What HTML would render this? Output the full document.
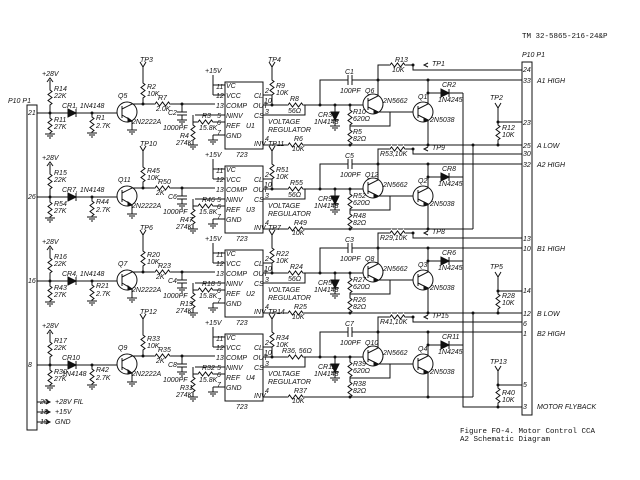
<!DOCTYPE html>
<html><head><meta charset="utf-8"><style>
html,body{margin:0;padding:0;background:#fff;width:640px;height:480px;overflow:hidden}
svg{display:block}
text{font-family:"Liberation Sans",sans-serif;font-style:italic;font-size:7px;fill:#111}
.m{font-family:"Liberation Mono",monospace;font-style:normal;font-size:7.5px}
</style></head><body>
<svg width="640" height="480" viewBox="0 0 640 480" xmlns="http://www.w3.org/2000/svg">
<defs>
<g id="ch" fill="none" stroke="#111" stroke-width="1">
<path d="M37,113 H117"/>
<path d="M50,80 V90 l2,1.5 -4,3 4,3 -4,3 4,3 -2,1.5 V118 l2,1.5 -4,3 4,3 -4,3 4,3 -2,1.5 V134"/>
<path d="M47,82 l3,-4 3,4"/>
<path d="M45,134 h10 M47,136 h6 M49,138 h2"/>
<path d="M68,109 V117 L76,113 Z" fill="#111"/><path d="M76,109 V117"/>
<path d="M92,113 V117 l2,1.5 -4,3 4,3 -4,3 4,3 -2,1.5 V133 M87,133 h10 M89,135 h6 M91,137 h2"/>
<circle cx="127" cy="112" r="10"/>
<path d="M122,106 V118 M122,109 L132,104 H215 M122,115 L132,121 V130 M127,130 h10 M129,132 h6 M131,134 h2"/>
<path d="M128,118 l4,3 -4,1 z" fill="#111"/>
<path d="M140,62 l3,5 3,-5 M143,67 V83 l2,1.5 -4,3 4,3 -4,3 4,3 -2,1.5 V104"/>
<path d="M155,104 l1.5,-2 3,4 3,-4 3,4 3,-4 1.5,2" stroke="#fff" stroke-width="3"/>
<path d="M155,104 l1.5,-2 3,4 3,-4 3,4 3,-4 1.5,2"/>
<path d="M182,104 V112 M177,112 h10 M177,115 h10 M182,115 V120 M177,120 h10 M179,122 h6 M181,124 h2"/>
<rect x="225" y="82" width="38" height="67"/>
<path d="M213,75 V95 M213,85 H225 M213,95 H225 M195,115 H225 M193,122 H225 M213,135 H225 M213,135 V140 M208,140 h10 M210,142 h6 M212,144 h2"/>
<path d="M198,122 l1.5,-2 3,4 3,-4 3,4 3,-4 1.5,2" stroke="#fff" stroke-width="3"/>
<path d="M198,122 l1.5,-2 3,4 3,-4 3,4 3,-4 1.5,2"/>
<path d="M193,115 V125 l2,1.5 -4,3 4,3 -4,3 4,3 -2,1.5 V145 M188,145 h10 M190,147 h6 M192,149 h2"/>
<path d="M263,95 H272 V105 M263,105 H363 M263,115 H305 V105"/>
<path d="M269,62 l3,5 3,-5 M272,67 V80 l2,1.5 -4,3 4,3 -4,3 4,3 -2,1.5 V105"/>
<path d="M288,105 l1.5,-2 3,4 3,-4 3,4 3,-4 1.5,2" stroke="#fff" stroke-width="3"/>
<path d="M288,105 l1.5,-2 3,4 3,-4 3,4 3,-4 1.5,2"/>
<path d="M263,145 H473"/>
<path d="M288,145 l1.5,-2 3,4 3,-4 3,4 3,-4 1.5,2" stroke="#fff" stroke-width="3"/>
<path d="M288,145 l1.5,-2 3,4 3,-4 3,4 3,-4 1.5,2"/>
<path d="M320,105 V80 H348 M352,80 H522 M348,75 V85 M352,75 V85"/>
<path d="M335,105 V112 M331,120 H339 M335,120 V126 M330,126 h10 M332,128 h6 M334,130 h2"/>
<path d="M331,112 H339 L335,120 Z" fill="#111"/>
<path d="M350,105 V110 l2,1.5 -4,3 4,3 -4,3 4,3 -2,1.5 V130 l2,1.5 -4,3 4,3 -4,3 4,3 -2,1.5 V145"/>
<circle cx="373" cy="104" r="10"/>
<path d="M368,98 V110 M368,101 L378,96 V65 H413 M368,107 L378,112 H413 M390,112 V126 H350"/>
<path d="M374,110 l4,2 -4,1.5z" fill="#111"/>
<path d="M390,65 l1.5,-2 3,4 3,-4 3,4 3,-4 1.5,2" stroke="#fff" stroke-width="3"/>
<path d="M390,65 l1.5,-2 3,4 3,-4 3,4 3,-4 1.5,2"/>
<path d="M413,65 V70 H522 M428,63 l-4,2 4,2"/>
<circle cx="423" cy="112" r="10"/>
<path d="M418,106 V118 M418,109 L428,104 V80 M418,115 L428,120 V145 M428,93 H463"/>
<path d="M424,118 l4,2 -4,1.5z" fill="#111"/>
<path d="M441,89 V97 L449,93 Z" fill="#111"/><path d="M449,89 V97"/>
<g fill="#111" stroke="none"><circle cx="50" cy="113" r="1.5"/><circle cx="92" cy="113" r="1.5"/><circle cx="143" cy="104" r="1.5"/><circle cx="182" cy="104" r="1.5"/><circle cx="272" cy="105" r="1.5"/><circle cx="320" cy="105" r="1.5"/><circle cx="335" cy="105" r="1.5"/><circle cx="350" cy="105" r="1.5"/><circle cx="378" cy="80" r="1.5"/><circle cx="428" cy="80" r="1.5"/><circle cx="428" cy="93" r="1.5"/><circle cx="413" cy="65" r="1.5"/><circle cx="428" cy="145" r="1.5"/><circle cx="350" cy="145" r="1.5"/></g>
</g>
</defs>
<use href="#ch"/>
<use href="#ch" y="84"/>
<use href="#ch" y="168"/>
<use href="#ch" y="252"/>
<g fill="none" stroke="#111">
<rect x="27" y="105" width="10" height="325"/>
<rect x="522" y="62" width="10" height="353"/>
<path d="M463,93 V407 H522 M473,145 V229 M473,313 V397 M473,145 H522 M473,313 H522"/>
<path d="M495,103 l3,5 3,-5 M498,108 V125 l2,1.5 -4,3 4,3 -4,3 4,3 -2,1.5 V145 M498,122 H522"/>
<path d="M495,272 l3,5 3,-5 M498,277 V294 l2,1.5 -4,3 4,3 -4,3 4,3 -2,1.5 V313 M498,291 H522"/>
<path d="M495,366 l3,5 3,-5 M498,371 V388 l2,1.5 -4,3 4,3 -4,3 4,3 -2,1.5 V407 M498,385 H522"/>
<path d="M37,402 H50 M37,412 H50 M37,422 H50 M46,400 l4,2 -4,2 M46,410 l4,2 -4,2 M46,420 l4,2 -4,2"/>
</g>
<g fill="#111"><circle cx="498" cy="122" r="1.5"/><circle cx="498" cy="145" r="1.5"/><circle cx="498" cy="291" r="1.5"/><circle cx="498" cy="313" r="1.5"/><circle cx="498" cy="385" r="1.5"/><circle cx="498" cy="407" r="1.5"/><circle cx="473" cy="145" r="1.5"/><circle cx="473" cy="313" r="1.5"/></g>
<text class="m" x="522" y="38">TM 32-5865-216-24&amp;P</text>
<text x="8" y="103">P10 P1</text>
<text x="522" y="57">P10 P1</text>
<text x="40" y="404">20</text><text x="55" y="404">+28V FIL</text>
<text x="40" y="414">18</text><text x="55" y="414">+15V</text>
<text x="40" y="424">19</text><text x="55" y="424">GND</text>
<text x="523" y="72">24</text><text x="523" y="83">33</text><text x="537" y="83">A1 HIGH</text>
<text x="523" y="125">23</text><text x="523" y="148">25</text><text x="537" y="148">A LOW</text>
<text x="523" y="156">30</text><text x="523" y="167">32</text><text x="537" y="167">A2 HIGH</text>
<text x="523" y="241">13</text><text x="523" y="251">10</text><text x="537" y="251">B1 HIGH</text>
<text x="523" y="293">14</text><text x="523" y="316">12</text><text x="537" y="316">B LOW</text>
<text x="523" y="326">6</text><text x="523" y="336">1</text><text x="537" y="336">B2 HIGH</text>
<text x="523" y="387">5</text><text x="523" y="409">3</text><text x="537" y="409">MOTOR FLYBACK</text>
<text x="490" y="100">TP2</text><text x="502" y="130">R12</text><text x="502" y="137">10K</text>
<text x="490" y="269">TP5</text><text x="502" y="298">R28</text><text x="502" y="305">10K</text>
<text x="490" y="364">TP13</text><text x="502" y="395">R40</text><text x="502" y="402">10K</text>
<text class="m" x="460" y="433">Figure FO-4.  Motor Control CCA</text>
<text class="m" x="460" y="441">A2 Schematic Diagram</text>
<g>
<text x="28" y="115">21</text><text x="42" y="76">+28V</text><text x="54" y="91">R14</text><text x="54" y="98">22K</text><text x="54" y="122">R11</text><text x="54" y="129">27K</text>
<text x="62" y="108">CR1, 1N4148</text><text x="96" y="120">R1</text><text x="96" y="128">2.7K</text><text x="118" y="98">Q5</text><text x="132" y="124">2N2222A</text>
<text x="140" y="62">TP3</text><text x="147" y="89">R2</text><text x="147" y="96">10K</text><text x="158" y="100">R7</text><text x="156" y="111">2.0K</text><text x="168" y="115">C2</text><text x="163" y="130">1000PF</text>
<text x="202" y="118">R3</text><text x="199" y="130">15.8K</text><text x="180" y="138">R4</text><text x="176" y="145">274K</text><text x="205" y="73">+15V</text>
<text x="216" y="89">11</text><text x="216" y="98">12</text><text x="216" y="108">13</text><text x="217" y="118">5</text><text x="217" y="125">6</text><text x="217" y="135">7</text>
<text x="226" y="88">VC</text><text x="226" y="98">VCC</text><text x="226" y="108">COMP</text><text x="226" y="118">NINV</text><text x="226" y="128">REF</text><text x="226" y="138">GND</text>
<text x="254" y="98">CL</text><text x="253" y="108">OUT</text><text x="254" y="118">CS</text><text x="254" y="146">INV</text><text x="246" y="128">U1</text>
<text x="265" y="93">2</text><text x="264" y="103">10</text><text x="265" y="114">3</text><text x="265" y="141">4</text><text x="236" y="157">723</text>
<text x="268" y="62">TP4</text><text x="276" y="88">R9</text><text x="276" y="95">10K</text><text x="290" y="101">R8</text><text x="288" y="113">56Ω</text>
<text x="268" y="124">VOLTAGE</text><text x="268" y="132">REGULATOR</text><text x="294" y="141">R6</text><text x="292" y="151">10K</text>
<text x="345" y="74">C1</text><text x="340" y="93">100PF</text><text x="318" y="117">CR3</text><text x="314" y="124">1N4148</text><text x="353" y="114">R10</text><text x="353" y="121">620Ω</text><text x="353" y="134">R5</text><text x="353" y="141">82Ω</text>
<text x="365" y="93">Q6</text><text x="383" y="103">2N5662</text><text x="418" y="99">Q1</text><text x="430" y="122">2N5038</text><text x="442" y="87">CR2</text><text x="438" y="102">1N4245</text>
<text x="395" y="62">R13</text><text x="392" y="72">10K</text><text x="432" y="66">TP1</text>
</g>
<g transform="translate(0,84)">
<text x="28" y="115">26</text><text x="42" y="76">+28V</text><text x="54" y="91">R15</text><text x="54" y="98">22K</text><text x="54" y="122">R54</text><text x="54" y="129">27K</text>
<text x="62" y="108">CR7, 1N4148</text><text x="96" y="120">R44</text><text x="96" y="128">2.7K</text><text x="118" y="98">Q11</text><text x="132" y="124">2N2222A</text>
<text x="140" y="62">TP10</text><text x="147" y="89">R45</text><text x="147" y="96">10K</text><text x="158" y="100">R50</text><text x="156" y="111">2K</text><text x="168" y="115">C6</text><text x="163" y="130">1000PF</text>
<text x="202" y="118">R46</text><text x="199" y="130">15.8K</text><text x="180" y="138">R47</text><text x="176" y="145">274K</text><text x="205" y="73">+15V</text>
<text x="216" y="89">11</text><text x="216" y="98">12</text><text x="216" y="108">13</text><text x="217" y="118">5</text><text x="217" y="125">6</text><text x="217" y="135">7</text>
<text x="226" y="88">VC</text><text x="226" y="98">VCC</text><text x="226" y="108">COMP</text><text x="226" y="118">NINV</text><text x="226" y="128">REF</text><text x="226" y="138">GND</text>
<text x="254" y="98">CL</text><text x="253" y="108">OUT</text><text x="254" y="118">CS</text><text x="254" y="146">INV</text><text x="246" y="128">U3</text>
<text x="265" y="93">2</text><text x="264" y="103">10</text><text x="265" y="114">3</text><text x="265" y="141">4</text><text x="236" y="157">723</text>
<text x="268" y="62">TP11</text><text x="276" y="88">R51</text><text x="276" y="95">10K</text><text x="290" y="101">R55</text><text x="288" y="113">56Ω</text>
<text x="268" y="124">VOLTAGE</text><text x="268" y="132">REGULATOR</text><text x="294" y="141">R49</text><text x="292" y="151">10K</text>
<text x="345" y="74">C5</text><text x="340" y="93">100PF</text><text x="318" y="117">CR9</text><text x="314" y="124">1N4148</text><text x="353" y="114">R52</text><text x="353" y="121">620Ω</text><text x="353" y="134">R48</text><text x="353" y="141">82Ω</text>
<text x="365" y="93">Q12</text><text x="383" y="103">2N5662</text><text x="418" y="99">Q2</text><text x="430" y="122">2N5038</text><text x="442" y="87">CR8</text><text x="438" y="102">1N4245</text>
<text x="380" y="72">R53,10K</text><text x="432" y="66">TP9</text>
</g>
<g transform="translate(0,168)">
<text x="28" y="115">16</text><text x="42" y="76">+28V</text><text x="54" y="91">R16</text><text x="54" y="98">22K</text><text x="54" y="122">R43</text><text x="54" y="129">27K</text>
<text x="62" y="108">CR4, 1N4148</text><text x="96" y="120">R21</text><text x="96" y="128">2.7K</text><text x="118" y="98">Q7</text><text x="132" y="124">2N2222A</text>
<text x="140" y="62">TP6</text><text x="147" y="89">R20</text><text x="147" y="96">10K</text><text x="158" y="100">R23</text><text x="156" y="111">2K</text><text x="168" y="115">C4</text><text x="163" y="130">1000PF</text>
<text x="202" y="118">R18</text><text x="199" y="130">15.8K</text><text x="180" y="138">R19</text><text x="176" y="145">274K</text><text x="205" y="73">+15V</text>
<text x="216" y="89">11</text><text x="216" y="98">12</text><text x="216" y="108">13</text><text x="217" y="118">5</text><text x="217" y="125">6</text><text x="217" y="135">7</text>
<text x="226" y="88">VC</text><text x="226" y="98">VCC</text><text x="226" y="108">COMP</text><text x="226" y="118">NINV</text><text x="226" y="128">REF</text><text x="226" y="138">GND</text>
<text x="254" y="98">CL</text><text x="253" y="108">OUT</text><text x="254" y="118">CS</text><text x="254" y="146">INV</text><text x="246" y="128">U2</text>
<text x="265" y="93">2</text><text x="264" y="103">10</text><text x="265" y="114">3</text><text x="265" y="141">4</text><text x="236" y="157">723</text>
<text x="268" y="62">TP7</text><text x="276" y="88">R22</text><text x="276" y="95">10K</text><text x="290" y="101">R24</text><text x="288" y="113">56Ω</text>
<text x="268" y="124">VOLTAGE</text><text x="268" y="132">REGULATOR</text><text x="294" y="141">R25</text><text x="292" y="151">10K</text>
<text x="345" y="74">C3</text><text x="340" y="93">100PF</text><text x="318" y="117">CR5</text><text x="314" y="124">1N4148</text><text x="353" y="114">R27</text><text x="353" y="121">620Ω</text><text x="353" y="134">R26</text><text x="353" y="141">82Ω</text>
<text x="365" y="93">Q8</text><text x="383" y="103">2N5662</text><text x="418" y="99">Q3</text><text x="430" y="122">2N5038</text><text x="442" y="87">CR6</text><text x="438" y="102">1N4245</text>
<text x="380" y="72">R29,10K</text><text x="432" y="66">TP8</text>
</g>
<g transform="translate(0,252)">
<text x="28" y="115">8</text><text x="42" y="76">+28V</text><text x="54" y="91">R17</text><text x="54" y="98">22K</text><text x="54" y="122">R30</text><text x="54" y="129">27K</text>
<text x="62" y="108">CR10</text><text x="62" y="124">1N4148</text><text x="96" y="120">R42</text><text x="96" y="128">2.7K</text><text x="118" y="98">Q9</text><text x="132" y="124">2N2222A</text>
<text x="140" y="62">TP12</text><text x="147" y="89">R33</text><text x="147" y="96">10K</text><text x="158" y="100">R35</text><text x="156" y="111">2K</text><text x="168" y="115">C8</text><text x="163" y="130">1000PF</text>
<text x="202" y="118">R32</text><text x="199" y="130">15.8K</text><text x="180" y="138">R31</text><text x="176" y="145">274K</text><text x="205" y="73">+15V</text>
<text x="216" y="89">11</text><text x="216" y="98">12</text><text x="216" y="108">13</text><text x="217" y="118">5</text><text x="217" y="125">6</text><text x="217" y="135">7</text>
<text x="226" y="88">VC</text><text x="226" y="98">VCC</text><text x="226" y="108">COMP</text><text x="226" y="118">NINV</text><text x="226" y="128">REF</text><text x="226" y="138">GND</text>
<text x="254" y="98">CL</text><text x="253" y="108">OUT</text><text x="254" y="118">CS</text><text x="254" y="146">INV</text><text x="246" y="128">U4</text>
<text x="265" y="93">2</text><text x="264" y="103">10</text><text x="265" y="114">3</text><text x="265" y="141">4</text><text x="236" y="157">723</text>
<text x="268" y="62">TP14</text><text x="276" y="88">R34</text><text x="276" y="95">10K</text><text x="282" y="101">R36, 56Ω</text>
<text x="268" y="124">VOLTAGE</text><text x="268" y="132">REGULATOR</text><text x="294" y="141">R37</text><text x="292" y="151">10K</text>
<text x="345" y="74">C7</text><text x="340" y="93">100PF</text><text x="318" y="117">CR12</text><text x="314" y="124">1N4148</text><text x="353" y="114">R39</text><text x="353" y="121">620Ω</text><text x="353" y="134">R38</text><text x="353" y="141">82Ω</text>
<text x="365" y="93">Q10</text><text x="383" y="103">2N5662</text><text x="418" y="99">Q4</text><text x="430" y="122">2N5038</text><text x="442" y="87">CR11</text><text x="438" y="102">1N4245</text>
<text x="380" y="72">R41,10K</text><text x="432" y="66">TP15</text>
</g>
</svg>
</body></html>
